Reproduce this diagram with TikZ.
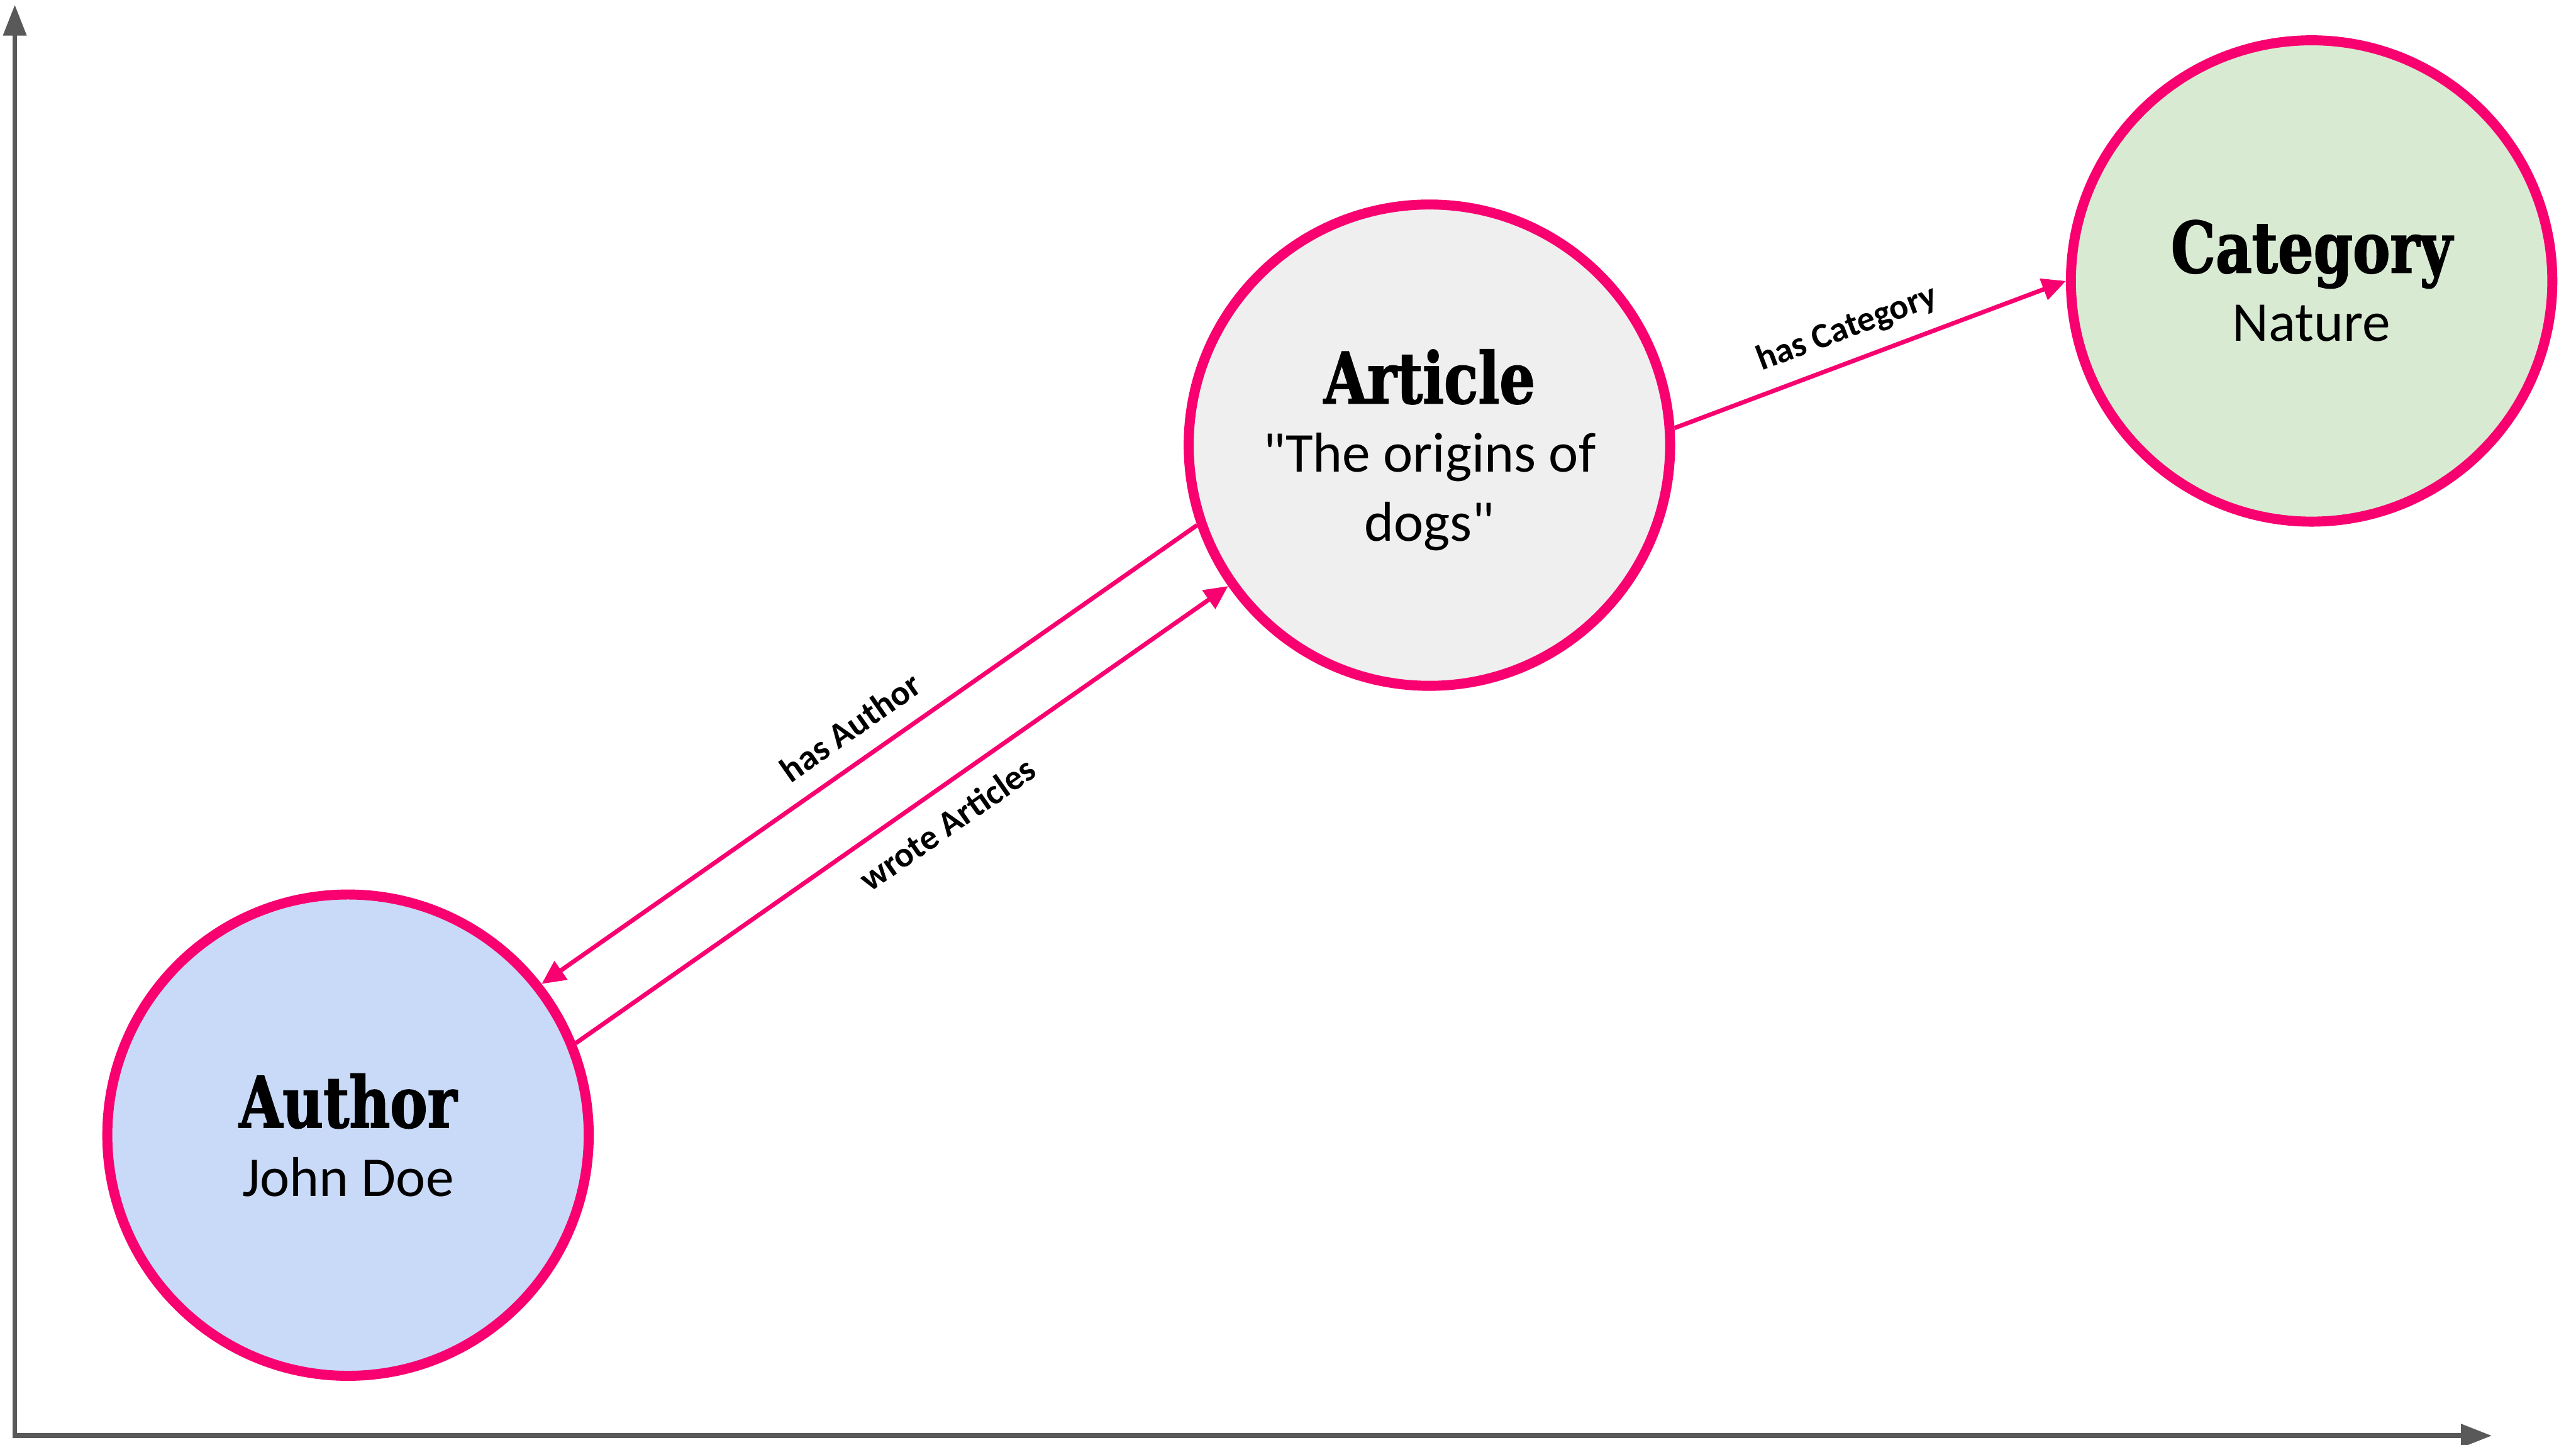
\documentclass[tikz,border=0pt]{standalone}
\usepackage{fontspec}
\setmainfont{Carlito}
\newfontfamily\slabfont{DejaVu Serif Condensed}[FakeStretch=0.88, FakeBold=1.5]
\usetikzlibrary{arrows.meta}

\definecolor{pinkline}{RGB}{248,0,112}
\definecolor{authorfill}{HTML}{C9DAF8}
\definecolor{articlefill}{HTML}{EFEFEF}
\definecolor{categoryfill}{HTML}{D9EAD3}
\definecolor{axisgray}{HTML}{595959}

\newcommand{\nodetitle}[1]{{\slabfont\bfseries\fontsize{34}{33}\selectfont #1}}

\tikzset{
  entity/.style={circle, draw=pinkline, line width=4.8pt, minimum size=8.12cm,
    inner sep=0pt, align=center, font=\fontsize{27}{33}\selectfont},
  relation/.style={draw=pinkline, line width=2.1pt,
    -{Triangle[length=0.4cm, width=0.37cm]}},
  reltext/.style={font=\bfseries\fontsize{17}{20}\selectfont, sloped, inner sep=4pt},
  axis/.style={draw=axisgray, line width=2.3pt,
    >={Triangle[length=0.52cm, width=0.38cm]}, <->}
}

\begin{document}
\begin{tikzpicture}
  \useasboundingbox (0,0) rectangle (43.45,-24.37);

  \coordinate (O) at (0.25,-24.22);
  \coordinate (Y) at (0.25,-0.08);
  \coordinate (X) at (42.03,-24.22);

  % Axes
  \draw[axis] (Y) -- (O) -- (X);

  % Entities
  \node[entity, fill=authorfill] (author) at (5.87,-19.15) {\nodetitle{Author}\\ John Doe};
  \node[entity, fill=articlefill, text depth=0pt] (article) at (24.11,-7.51)
    {\nodetitle{Article}\\ \textquotedbl The origins of\\ dogs\textquotedbl};
  \node[entity, fill=categoryfill] (category) at (38.99,-4.74) {\nodetitle{Category}\\ Nature};

  % Relations
  \draw[relation] (article.199) -- node[reltext, above=5pt, pos=0.5] {has Author} (author.38);
  \draw[relation] (author.22) -- node[reltext, below=5pt, pos=0.54] {wrote Articles} (article.215);
  \draw[relation] (article.4) -- node[reltext, above=3pt, pos=0.47] {has Category} (category.180);

\end{tikzpicture}
\end{document}
